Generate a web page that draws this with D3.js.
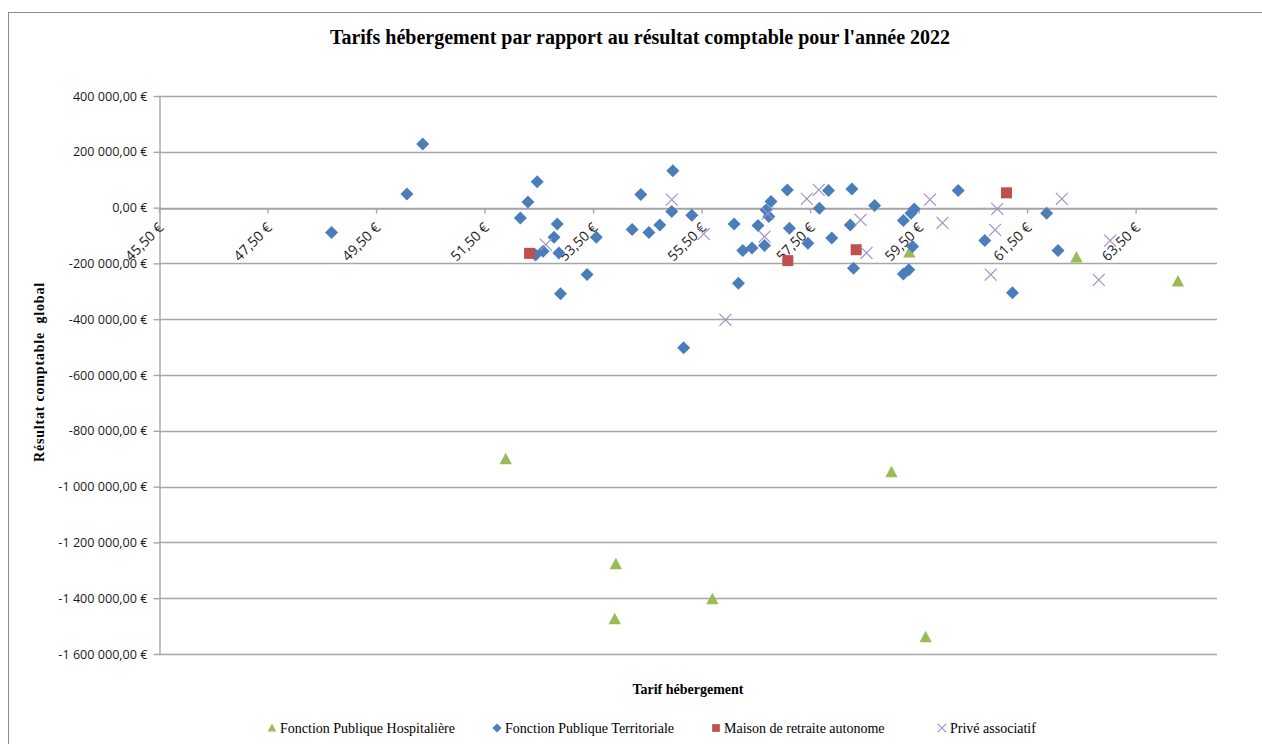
<!DOCTYPE html>
<html>
<head>
<meta charset="utf-8">
<script src="https://cdn.jsdelivr.net/npm/d3@7"></script>
<style>
  html, body { margin: 0; padding: 0; background: #ffffff; }
  svg { display: block; }
</style>
</head>
<body>
<svg id="chart" width="1262" height="744"></svg>
<script>
// ---------------- DATA ----------------
const chartTitle = "Tarifs hébergement par rapport au résultat comptable pour l'année 2022";
const xTitle = "Tarif hébergement";
const yTitle = "Résultat comptable  global";

const seriesNames = ["Fonction Publique Hospitalière", "Fonction Publique Territoriale", "Maison de retraite autonome", "Privé associatif"];

// Fonction Publique Hospitalière (triangles)
const hospX = [51.89, 53.92, 53.90, 55.70, 59.00, 59.63, 59.33, 62.41, 64.28];
const hospY = [-902000, -1278000, -1475000, -1404000, -949000, -1540000, -161000, -179000, -265000];

// Fonction Publique Territoriale (diamonds)
const terrX = [48.68, 50.07, 50.36, 52.16, 52.30, 52.47, 52.44, 52.58, 52.84, 52.78,
               52.87, 52.90, 53.39, 53.56, 54.22, 54.38, 54.53, 54.73, 54.97, 54.95,
               55.32, 55.17, 56.10, 56.26, 56.43, 56.18, 56.54, 56.66, 56.69, 56.74,
               56.78, 57.08, 57.12, 57.46, 57.67, 57.84, 57.90, 58.27, 58.24, 58.30,
               58.69, 59.22, 59.36, 59.42, 59.39, 59.22, 59.32, 60.23, 60.72, 61.23,
               61.86, 62.07];
const terrY = [-89500, 49000, 228100, -36900, 20400, 93100, -170000, -156500, -58400, -106200,
               -162300, -309200, -239900, -106200, -78800, 46600, -89500, -62000, 132500, -14300,
               -27500, -502500, -58400, -154000, -144400, -271000, -64500, -136100, -8200, -32200,
               21500, 63300, -74000, -127700, -2400, 60900, -108600, 66800, -62000, -217300,
               7200, -46600, -20300, -4800, -139700, -237600, -223200, 60900, -118200, -305600,
               -20300, -154000];

// Maison de retraite autonome (squares)
const maisonX = [52.33, 57.09, 58.35, 61.12];
const maisonY = [-164000, -190000, -151000, 53000];

// Privé associatif (crosses)
const priveX = [52.63, 54.95, 55.54, 55.94, 56.72, 56.66, 57.44, 57.66, 58.43, 58.54,
                59.71, 59.94, 60.95, 60.91, 60.83, 62.14, 63.03, 62.82];
const priveY = [-132500, 28600, -94300, -402300, -21500, -103900, 31100, 63300, -44100, -162300,
                28600, -54900, -4800, -80000, -240000, 31100, -118200, -259000];

const xTicks = [45.5, 47.5, 49.5, 51.5, 53.5, 55.5, 57.5, 59.5, 61.5, 63.5];
const yTicks = [400000, 200000, 0, -200000, -400000, -600000, -800000, -1000000, -1200000, -1400000, -1600000];

// ---------------- DRAW ----------------
const svg = d3.select("#chart");
const pLeft = 159, pRight = 1217, pTop = 96, pBottom = 654;

const x = d3.scaleLinear().domain([45.5, 65]).range([pLeft, pRight]);
const y = d3.scaleLinear().domain([-1600000, 400000]).range([pBottom, pTop]);

const fr = d3.formatLocale({decimal: ",", thousands: "\u00a0", grouping: [3], currency: ["", "\u00a0€"], minus: "-"});
const yFmt = fr.format("$,.2f");
const xFmt = fr.format("$,.2f");

const grid = "#a6a6a6";
const tickFont = "'Open Sans', sans-serif";

// Outer chart border
svg.append("rect").attr("x", 8.5).attr("y", 12.5).attr("width", 1300).attr("height", 800)
  .attr("fill", "none").attr("stroke", "#8c8c8c").attr("stroke-width", 1);

// Title
svg.append("text").attr("x", 640).attr("y", 44).attr("text-anchor", "middle")
  .style("font-family", "'Liberation Serif', serif").style("font-weight", "bold").style("font-size", "20px")
  .attr("fill", "#000").text(chartTitle);

// Horizontal gridlines
svg.append("g").selectAll("line").data(yTicks).join("line")
  .attr("x1", pLeft).attr("x2", pRight)
  .attr("y1", d => Math.round(y(d)) + 0.5).attr("y2", d => Math.round(y(d)) + 0.5)
  .attr("stroke", grid).attr("stroke-width", 1.4);

// Y axis
const yAxis = svg.append("g").attr("transform", `translate(${pLeft + 0.5},0)`)
  .call(d3.axisLeft(y).tickValues(yTicks).tickFormat(yFmt).tickSizeInner(6).tickSizeOuter(0).tickPadding(6));
yAxis.select(".domain").attr("stroke", grid).attr("stroke-width", 1.4);
yAxis.selectAll(".tick line").attr("stroke", grid).attr("stroke-width", 1.4);
yAxis.selectAll(".tick text").style("font-family", tickFont).style("font-size", "12.6px").attr("fill", "#1a1a1a");

// X axis at y = 0
const xAxis = svg.append("g").attr("transform", `translate(0,${Math.round(y(0)) + 0.5})`)
  .call(d3.axisBottom(x).tickValues(xTicks).tickFormat(xFmt).tickSizeInner(5).tickSizeOuter(0));
xAxis.select(".domain").attr("stroke", grid).attr("stroke-width", 1.4);
xAxis.selectAll(".tick line").attr("stroke", grid).attr("stroke-width", 1.4);
xAxis.selectAll(".tick text")
  .style("font-family", tickFont).style("font-size", "14px").attr("fill", "#1a1a1a")
  .attr("text-anchor", "end").attr("x", 0).attr("y", 0).attr("dy", 0)
  .attr("transform", "translate(5,20) rotate(-45)");

// Axis titles
svg.append("text").attr("transform", "translate(44,372) rotate(-90)").attr("text-anchor", "middle")
  .style("font-family", "'Liberation Serif', serif").style("font-weight", "bold").style("font-size", "14px")
  .style("letter-spacing", "0.8px").style("white-space", "pre")
  .text(yTitle);
svg.append("text").attr("x", 688).attr("y", 694).attr("text-anchor", "middle")
  .style("font-family", "'Liberation Serif', serif").style("font-weight", "bold").style("font-size", "14px")
  .text(xTitle);

// Marker shapes
const colors = ["#9bbb59", "#4a7ebb", "#c0504d", "#a08fc8"];
function drawMarker(g, type, s) {
  if (type === 0) {
    g.append("path").attr("d", `M0,${-6.5*s}L${6.2*s},${5*s}L${-6.2*s},${5*s}Z`).attr("fill", colors[0]);
  } else if (type === 1) {
    g.append("path").attr("d", `M0,${-6.5*s}L${6.5*s},0L0,${6.5*s}L${-6.5*s},0Z`).attr("fill", colors[1]);
  } else if (type === 2) {
    g.append("rect").attr("x", -5.5*s).attr("y", -5.5*s).attr("width", 11*s).attr("height", 11*s).attr("fill", colors[2]);
  } else {
    g.append("path").attr("d", `M${-6*s},${-6*s}L${6*s},${6*s}M${-6*s},${6*s}L${6*s},${-6*s}`)
      .attr("stroke", colors[3]).attr("stroke-width", 1.2).attr("fill", "none");
  }
}

const series = [
  {xs: hospX, ys: hospY},
  {xs: terrX, ys: terrY},
  {xs: maisonX, ys: maisonY},
  {xs: priveX, ys: priveY}
];
series.forEach((s, i) => {
  const pts = s.xs.map((v, k) => [v, s.ys[k]]);
  svg.append("g").selectAll("g").data(pts).join("g")
    .attr("transform", d => `translate(${x(d[0])},${y(d[1])})`)
    .each(function() { drawMarker(d3.select(this), i, 1); });
});

// Legend
const legendX = [272, 497, 716, 942];
const legend = svg.append("g");
seriesNames.forEach((name, i) => {
  const g = legend.append("g").attr("transform", `translate(${legendX[i]},728)`);
  drawMarker(g, i, 0.7);
  g.append("text").attr("x", 8).attr("y", 4.5)
    .style("font-family", "'Liberation Serif', serif").style("font-size", "14px").attr("fill", "#000")
    .text(name);
});
</script>
</body>
</html>
